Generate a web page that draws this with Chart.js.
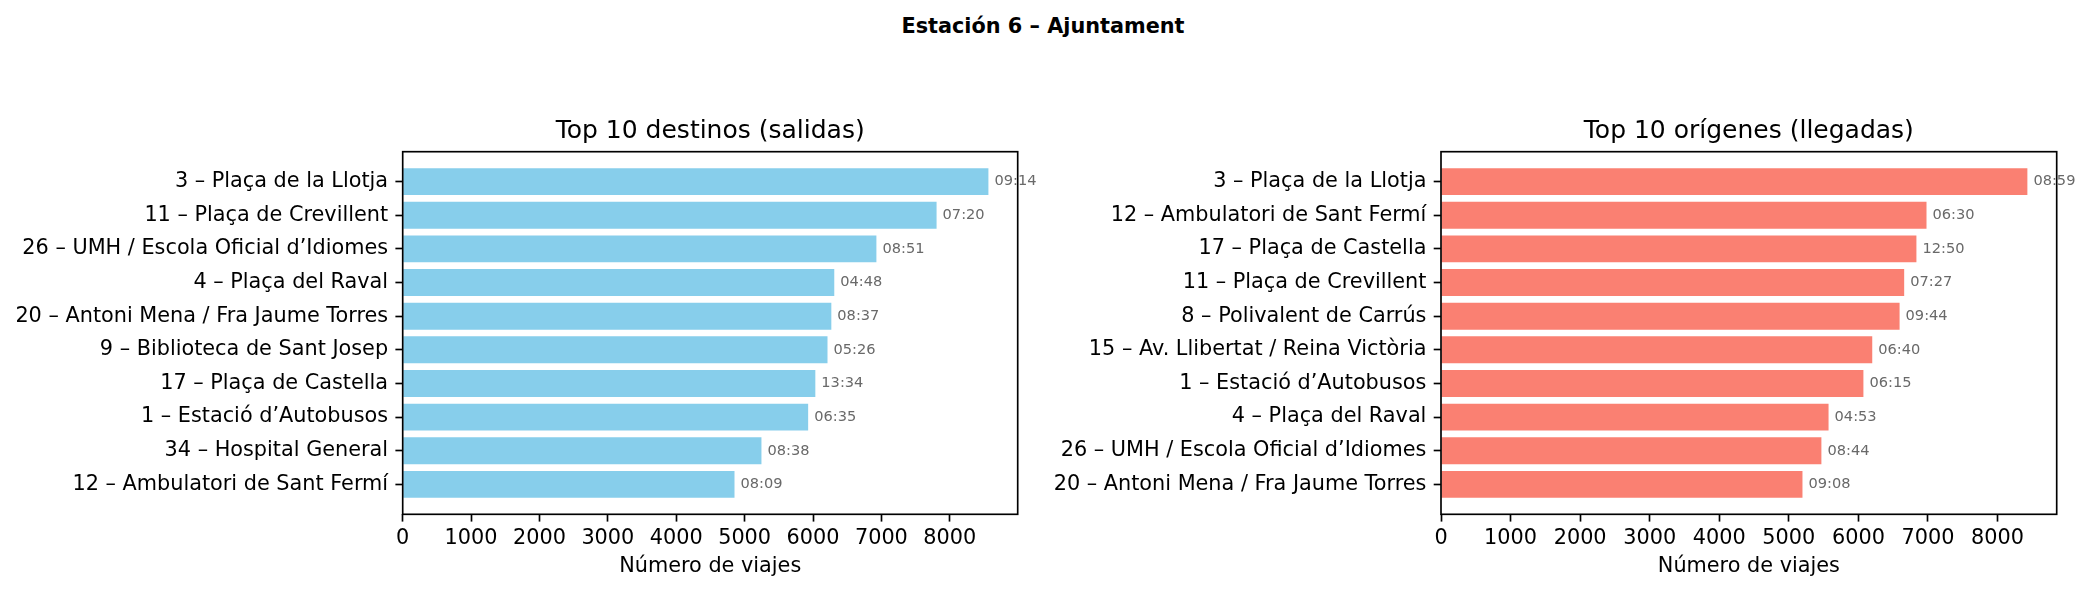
<!DOCTYPE html>
<html>
<head>
<meta charset="utf-8">
<script src="https://cdn.jsdelivr.net/npm/chart.js@4.4.1/dist/chart.umd.min.js"></script>
<style>
  html, body { margin: 0; padding: 0; background: #ffffff; }
  #wrap { position: relative; width: 2090px; height: 594px; overflow: hidden; background: #ffffff; }
  #sup { position: absolute; top: 14px; left: 1043px; transform: translateX(-50%);
         font: bold 20.8px/25px 'DejaVu Sans', sans-serif; white-space: nowrap; color: #000; }
  canvas { position: absolute; top: 0; }
</style>
</head>
<body>
<div id="wrap">
  <div id="sup"></div>
  <canvas id="c1" width="1045" height="594" style="left:0px;width:1045px;height:594px"></canvas>
  <canvas id="c2" width="1045" height="594" style="left:1045px;width:1045px;height:594px"></canvas>
</div>
<script>
// ---------------- data ----------------
const suptitle = 'Estación 6 – Ajuntament';
const xAxisTitle = 'Número de viajes';

const destTitle = 'Top 10 destinos (salidas)';
const destNames = [
  '3 – Plaça de la Llotja',
  '11 – Plaça de Crevillent',
  '26 – UMH / Escola Oficial d’Idiomes',
  '4 – Plaça del Raval',
  '20 – Antoni Mena / Fra Jaume Torres',
  '9 – Biblioteca de Sant Josep',
  '17 – Plaça de Castella',
  '1 – Estació d’Autobusos',
  '34 – Hospital General',
  '12 – Ambulatori de Sant Fermí'
];
const destTrips = [8565, 7807, 6927, 6311, 6268, 6212, 6034, 5929, 5246, 4852];
const destTimes = ['09:14', '07:20', '08:51', '04:48', '08:37', '05:26', '13:34', '06:35', '08:38', '08:09'];

const origTitle = 'Top 10 orígenes (llegadas)';
const origNames = [
  '3 – Plaça de la Llotja',
  '12 – Ambulatori de Sant Fermí',
  '17 – Plaça de Castella',
  '11 – Plaça de Crevillent',
  '8 – Polivalent de Carrús',
  '15 – Av. Llibertat / Reina Victòria',
  '1 – Estació d’Autobusos',
  '4 – Plaça del Raval',
  '26 – UMH / Escola Oficial d’Idiomes',
  '20 – Antoni Mena / Fra Jaume Torres'
];
const origTrips = [8429, 6979, 6834, 6658, 6592, 6199, 6072, 5571, 5468, 5196];
const origTimes = ['08:59', '06:30', '12:50', '07:27', '09:44', '06:40', '06:15', '04:53', '08:44', '09:08'];

const xTicks = [0, 1000, 2000, 3000, 4000, 5000, 6000, 7000, 8000];

// ---------------- styling ----------------
const FONT = "'DejaVu Sans', sans-serif";
const W = 1045, H = 594;
const AREA_TOP = 151.7, AREA_BOTTOM = 514.3;
const TITLE_SIZE = 25, TITLE_LH = 1.2, TITLE_PAD = 5;
const TICK_SIZE = 20.8;
const TICK_LEN = 7.3, TICK_W = 1.67;

document.getElementById('sup').textContent = suptitle;

const framePlugin = {
  id: 'frameAndLabels',
  afterDatasetsDraw(chart, args, opts) {
    const ctx = chart.ctx;
    const a = chart.chartArea;
    ctx.save();
    ctx.strokeStyle = '#000';
    ctx.lineWidth = TICK_W;
    ctx.strokeRect(a.left, a.top, a.right - a.left, a.bottom - a.top);
    ctx.restore();

    const meta = chart.getDatasetMeta(0);
    ctx.save();
    ctx.font = '14.6px ' + FONT;
    ctx.fillStyle = '#696969';
    ctx.textAlign = 'left';
    ctx.textBaseline = 'middle';
    meta.data.forEach((bar, i) => {
      ctx.fillText(opts.labels[i], bar.x + 6, bar.y);
    });
    ctx.restore();
  }
};

function makeChart(id, title, names, values, times, color, areaLeft, areaRight) {
  const padTop = AREA_TOP - TITLE_SIZE * TITLE_LH - TITLE_PAD;
  return new Chart(document.getElementById(id), {
    type: 'bar',
    data: {
      datasets: [{
        data: values.map((v, i) => ({ x: v, y: i })),
        backgroundColor: color,
        borderWidth: 0,
        barPercentage: 0.8,
        categoryPercentage: 1.0
      }]
    },
    plugins: [framePlugin],
    options: {
      indexAxis: 'y',
      responsive: false,
      animation: false,
      events: [],
      layout: { padding: { top: padTop, left: 0, right: W - areaRight, bottom: 0 } },
      plugins: {
        legend: { display: false },
        tooltip: { enabled: false },
        title: {
          display: true, text: title, fullSize: false, color: '#000',
          font: { family: FONT, size: TITLE_SIZE, weight: 'normal', lineHeight: TITLE_LH },
          padding: { top: 0, bottom: TITLE_PAD }
        },
        frameAndLabels: { labels: times }
      },
      scales: {
        x: {
          type: 'linear',
          bounds: 'data',
          offset: false,
          min: 0,
          max: Math.max(...values) * 1.05,
          afterFit: s => { s.height = H - AREA_BOTTOM; },
          afterBuildTicks: s => { s.ticks = xTicks.map(v => ({ value: v })); },
          border: { display: false },
          grid: { display: true, offset: false, drawOnChartArea: false, drawTicks: true,
                  tickLength: TICK_LEN, tickColor: '#000', tickWidth: TICK_W },
          ticks: { includeBounds: false, color: '#000',
                   font: { family: FONT, size: TICK_SIZE }, padding: 4.2,
                   maxRotation: 0, autoSkip: false, callback: v => String(v) },
          title: { display: true, text: xAxisTitle, color: '#000',
                   font: { family: FONT, size: TICK_SIZE, lineHeight: 1.2 },
                   padding: { top: 0, bottom: 14.7 } }
        },
        y: {
          type: 'linear',
          bounds: 'data',
          offset: false,
          reverse: true,
          min: -0.89,
          max: names.length - 1 + 0.89,
          afterFit: s => { s.width = areaLeft; },
          afterBuildTicks: s => { s.ticks = names.map((n, i) => ({ value: i })); },
          border: { display: false },
          grid: { display: true, offset: false, drawOnChartArea: false, drawTicks: true,
                  tickLength: TICK_LEN, tickColor: '#000', tickWidth: TICK_W },
          ticks: { includeBounds: false, color: '#000', font: { family: FONT, size: TICK_SIZE }, padding: 7.3,
                   autoSkip: false, callback: v => names[v] }
        }
      }
    }
  });
}

makeChart('c1', destTitle, destNames, destTrips, destTimes, '#87CEEB', 402.7, 1017.7);
makeChart('c2', origTitle, origNames, origTrips, origTimes, '#FA8072', 1441 - 1045, 2056.7 - 1045);
</script>
</body>
</html>
